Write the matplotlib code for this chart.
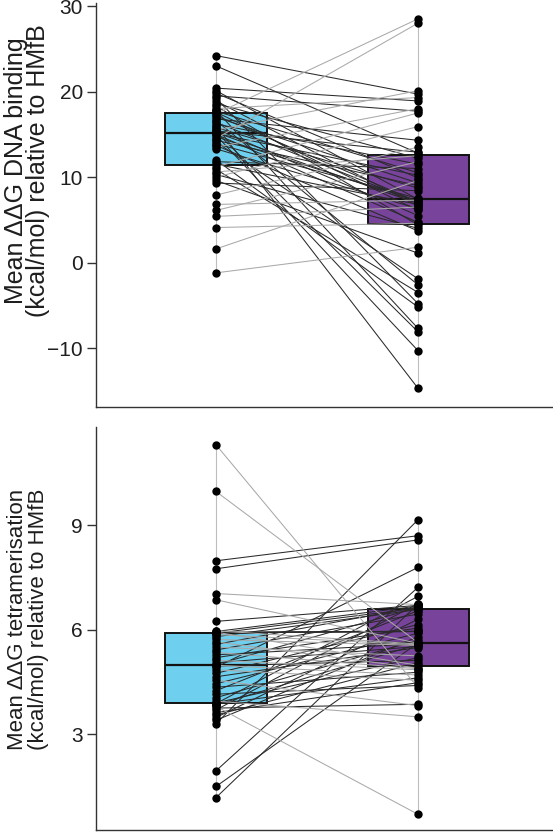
import matplotlib
matplotlib.use("Agg")
import matplotlib.pyplot as plt

plt.rcParams['font.family'] = ['Liberation Sans', 'DejaVu Sans']

# paired values (same order in before/after lists)
dna_before = [24.2, 23.0, 20.4, 20.1, 19.8, 19.5, 19.2, 18.9, 18.6, 18.3,
              18.0, 17.8, 17.7, 17.6, 17.4, 17.2, 17.0, 16.8, 16.6, 16.4,
              16.2, 16.0, 15.8, 15.6, 15.5, 15.4, 15.3, 15.2, 15.1, 15.0,
              14.9, 14.7, 14.5, 14.3, 14.1, 13.9, 13.7, 13.5, 13.3, 12.0,
              11.8, 11.5, 11.2, 10.9, 10.6, 10.3, 10.0, 9.6, 9.3, 7.9,
              6.8, 6.1, 5.4, 4.1, 1.6, -1.2]
dna_after = [19.7, 12.8, 18.9, 7.4, 9.9, 17.7, -4.8, 6.6, 12.2, 4.4,
             19.3, -7.7, 10.5, 6.1, 28.5, 7.1, 9.3, 14.3, -2.6, 7.0,
             11.5, -14.7, 8.7, 5.5, 20.1, 12.9, -8.1, 6.9, 10.2, 4.7,
             -10.3, 7.2, 28.0, 9.0, -1.9, 7.5, 3.7, 18.0, 6.3, -5.2,
             11.0, 6.8, 17.5, -3.5, 12.5, 4.0, 15.9, 1.1, 8.4, 13.5,
             7.3, 11.8, 6.5, 4.6, 9.6, 1.8]

tet_before = [1.18, 1.50, 1.95, 3.30, 3.40, 3.48, 3.55, 3.62, 3.70, 3.75,
              3.80, 3.84, 3.87, 3.88, 3.90, 3.95, 4.05, 4.15, 4.25, 4.35,
              4.45, 4.55, 4.65, 4.75, 4.85, 4.92, 4.96, 4.98, 5.00, 5.05,
              5.12, 5.20, 5.28, 5.35, 5.42, 5.50, 5.58, 5.65, 5.72, 5.80,
              5.86, 5.90, 5.92, 5.92, 5.92, 5.92, 5.93, 5.95, 5.97, 6.24,
              6.86, 7.04, 7.75, 7.98, 9.97, 11.31]
tet_after = [6.74, 5.62, 7.22, 9.16, 5.80, 6.30, 5.05, 4.48, 6.75, 3.86,
             0.70, 5.58, 4.62, 6.96, 5.20, 3.50, 5.70, 4.40, 6.55, 4.78,
             5.90, 3.82, 5.49, 6.15, 4.55, 7.79, 5.12, 4.70, 6.64, 5.52,
             4.85, 6.05, 5.60, 4.88, 6.45, 5.25, 6.66, 4.90, 5.55, 6.58,
             5.57, 6.62, 5.95, 5.95, 5.95, 5.96, 4.98, 6.68, 5.59, 6.70,
             5.61, 6.72, 8.58, 8.70, 5.63, 4.34]

box_colors = ['#6ECFEE', '#77439B']
ylabels = ['Mean ΔΔG DNA binding\n(kcal/mol) relative to HMfB',
           'Mean ΔΔG tetramerisation\n(kcal/mol) relative to HMfB']

W, H = 553, 833
fig = plt.figure(figsize=(W / 100, H / 100), dpi=100)
ax1 = fig.add_axes([96 / W, 1 - 406.7 / H, 1 - 96 / W, (406.7 - 6) / H])
ax2 = fig.add_axes([96 / W, 1 - 830 / H, 1 - 96 / W, (830 - 426.7) / H])


def paired_panel(ax, before, after, up_is_grey):
    for x, vals in zip([1, 2], [before, after]):
        ax.plot([x, x], [min(vals), max(vals)], color='#bdbdbd', lw=0.8, zorder=1)
    bp = ax.boxplot([before, after], positions=[1, 2], widths=0.5,
                    patch_artist=True, showfliers=False,
                    whiskerprops=dict(visible=False),
                    capprops=dict(visible=False),
                    medianprops=dict(color='#111111', lw=1.6),
                    boxprops=dict(edgecolor='#111111', lw=1.4))
    for patch, c in zip(bp['boxes'], box_colors):
        patch.set_facecolor(c)
        patch.set_zorder(2)
    for m in bp['medians']:
        m.set_zorder(2.5)
    for b, a in zip(before, after):
        grey = (a > b) if up_is_grey else (a < b)
        ax.plot([1, 2], [b, a], color='#a9a9a9' if grey else '#2a2a2a',
                lw=0.75, zorder=3)
    ax.plot([1] * len(before), before, 'o', color='black', ms=5, zorder=4)
    ax.plot([2] * len(after), after, 'o', color='black', ms=5, zorder=4)
    ax.set_xlim(0.406, 2.668)
    ax.set_xticks([])
    for s in ['top', 'right']:
        ax.spines[s].set_visible(False)
    for s in ['left', 'bottom']:
        ax.spines[s].set_color('#333333')
        ax.spines[s].set_linewidth(1.0)
    ax.tick_params(axis='y', length=6.5, width=1.0, color='#333333',
                   labelsize=15, labelcolor='#1e1e1e', pad=3)


paired_panel(ax1, dna_before, dna_after, up_is_grey=True)
ax1.set_ylim(-16.85, 29.95)
ax1.set_yticks([-10, 0, 10, 20, 30])
ax1.set_yticklabels(['\u221210', '0', '10', '20', '30'])
ax1.spines['left'].set_bounds(-16.85, 30.3)
ax1.spines['left'].set_clip_on(False)

paired_panel(ax2, tet_before, tet_after, up_is_grey=False)
ax2.set_ylim(0.25, 11.83)
ax2.set_yticks([3, 6, 9])

fig.text(50 / W, 1 - 171 / H, ylabels[0], rotation=90, ha='right', va='center',
         fontsize=18, color='#1e1e1e', linespacing=0.9, multialignment='center')
fig.text(49 / W, 1 - 619 / H, ylabels[1], rotation=90, ha='right', va='center',
         fontsize=16, color='#1e1e1e', linespacing=1.0, multialignment='center')

fig.savefig('out.png', dpi=100)
